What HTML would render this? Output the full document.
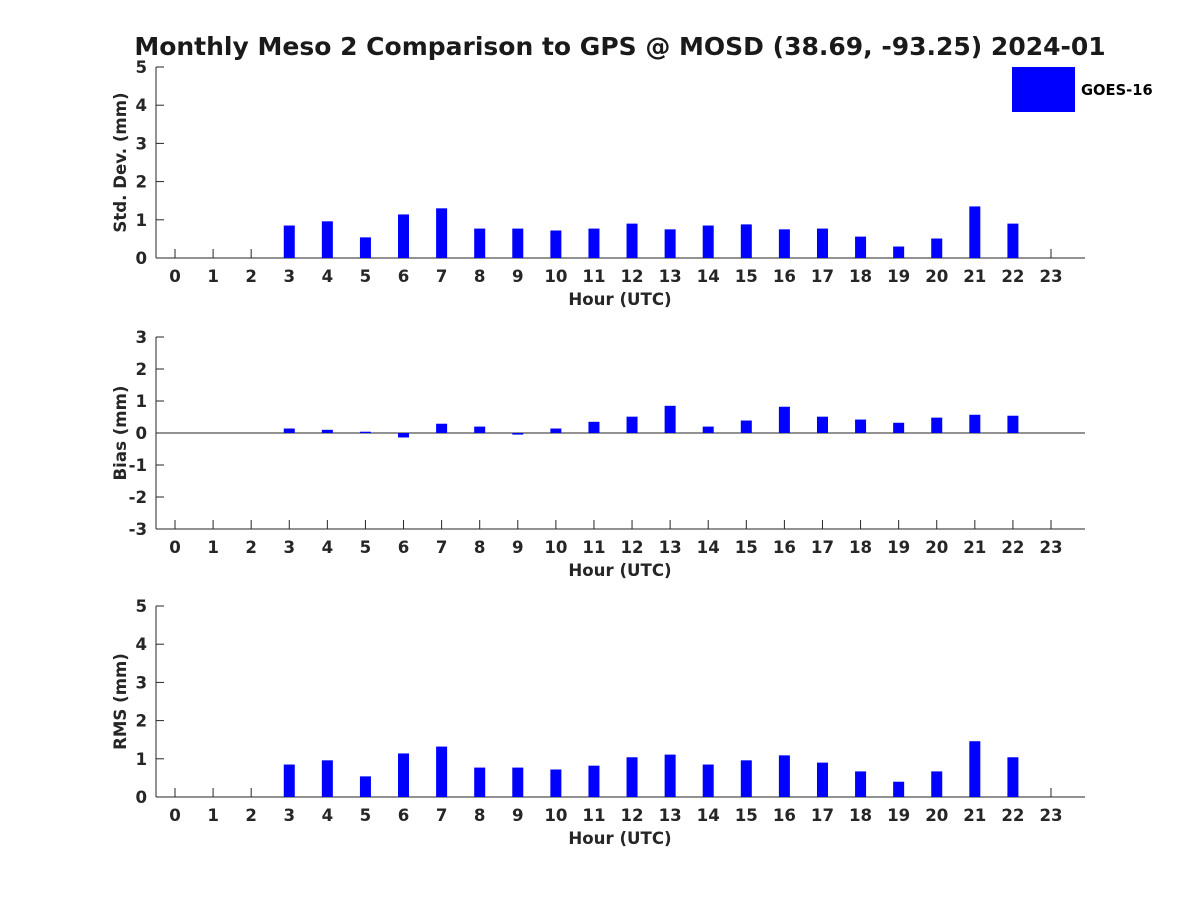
<!DOCTYPE html>
<html><head><meta charset="utf-8"><style>
body{margin:0;background:#fff}
svg{display:block;font-family:"DejaVu Sans","Liberation Sans",sans-serif}
</style></head><body>
<svg id="chart" width="1200" height="900" viewBox="0 0 1200 900" xmlns="http://www.w3.org/2000/svg">
<rect width="1200" height="900" fill="#fff"/>
<text x="620" y="55" text-anchor="middle" font-size="25" font-weight="bold" fill="#1a1a1a">Monthly Meso 2 Comparison to GPS @ MOSD (38.69, -93.25) 2024-01</text>
<rect x="1012" y="67" width="63" height="45" fill="#0000ff"/>
<text x="1081" y="95" font-size="14.7" font-weight="bold" fill="#000">GOES-16</text>
</svg>
<script>
const hours = [0,1,2,3,4,5,6,7,8,9,10,11,12,13,14,15,16,17,18,19,20,21,22,23];
const stdDev = [null,null,null,0.85,0.96,0.54,1.14,1.30,0.77,0.77,0.72,0.77,0.90,0.75,0.85,0.88,0.75,0.77,0.56,0.30,0.51,1.35,0.90,null];
const bias = [null,null,null,0.14,0.10,0.04,-0.14,0.29,0.20,-0.05,0.14,0.35,0.51,0.85,0.20,0.39,0.82,0.51,0.42,0.32,0.48,0.57,0.54,null];
const rms = [null,null,null,0.85,0.96,0.54,1.14,1.32,0.77,0.77,0.72,0.82,1.04,1.11,0.85,0.96,1.09,0.90,0.67,0.40,0.67,1.46,1.04,null];
const stdTicks = [0,1,2,3,4,5];
const biasTicks = [-3,-2,-1,0,1,2,3];
const rmsTicks = [0,1,2,3,4,5];

const svg = document.getElementById('chart');
const NS = 'http://www.w3.org/2000/svg';
function mk(tag, attrs){const e=document.createElementNS(NS,tag);for(const k in attrs)e.setAttribute(k,attrs[k]);svg.appendChild(e);return e;}
const xL=156, xR=1085, x0=175, x23=1051;
const FS=16.6;
const xs = h => x0 + (x23-x0)*h/23;

function panel(id, values, ticks, yTop, yBot, ylabel){
  const vmin=ticks[0], vmax=ticks[ticks.length-1];
  const ys = v => yBot - (v-vmin)/(vmax-vmin)*(yBot-yTop);
  let l = mk('line',{x1:xL,y1:yTop,x2:xL,y2:yBot,stroke:'#262626','stroke-width':1});
  
  
  l = mk('line',{x1:xL,y1:yBot,x2:xR,y2:yBot,stroke:'#262626','stroke-width':1});
  
  
  if(vmin<0){
    l = mk('line',{x1:xL,y1:ys(0),x2:xR,y2:ys(0),stroke:'#262626','stroke-width':1});
    
    
  }
  ticks.forEach(t=>{
    const y=ys(t);
    const tk=mk('line',{x1:xL,y1:y,x2:xL+8,y2:y,stroke:'#262626'});
    
    
    const tx=mk('text',{x:xL-9,y:y+6,'text-anchor':'end','font-size':FS,'font-weight':'bold',fill:'#262626'});
    tx.textContent=t;
    
    
  });
  hours.forEach((h,i)=>{
    const x=xs(h);
    const tk=mk('line',{x1:x,y1:yBot,x2:x,y2:yBot-9,stroke:'#262626'});
    
    
    const tx=mk('text',{x:x,y:yBot+24,'text-anchor':'middle','font-size':FS,'font-weight':'bold',fill:'#262626'});
    tx.textContent=h;
    
    
    const v=values[i];
    if(v!==null){
      const base=ys(vmin<0?0:vmin), top=ys(v);
      const b=mk('rect',{x:x-5.5,y:Math.min(base,top),width:11,height:Math.abs(base-top),fill:'#0000ff'});
      
      
    }
  });
  const xt=mk('text',{x:620,y:yBot+47,'text-anchor':'middle','font-size':FS,'font-weight':'bold',fill:'#262626'});
  xt.textContent='Hour (UTC)';
  
  
  const cy=(yTop+yBot)/2;
  const yt=mk('text',{x:0,y:0,'text-anchor':'middle','font-size':FS,'font-weight':'bold',fill:'#262626',transform:`translate(126,${cy}) rotate(-90)`});
  yt.textContent=ylabel;
  
  
}
panel('std-dev', stdDev, stdTicks, 67, 258, 'Std. Dev. (mm)');
panel('bias', bias, biasTicks, 337, 529, 'Bias (mm)');
panel('rms', rms, rmsTicks, 606, 797, 'RMS (mm)');
</script>
</body></html>
